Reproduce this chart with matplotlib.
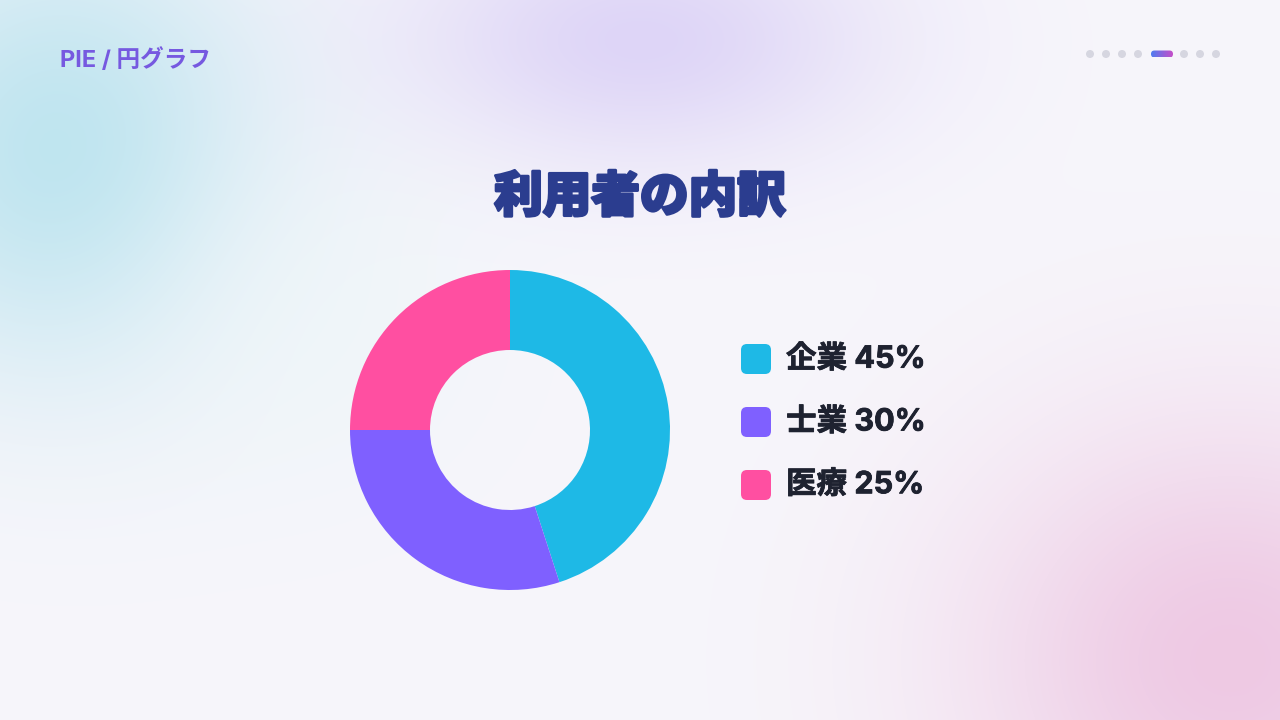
import numpy as np
import matplotlib.pyplot as plt
import matplotlib.patheffects as pe
from matplotlib.patches import FancyBboxPatch, Circle
from matplotlib.colors import to_rgb

plt.rcParams['font.family'] = ['Inter', 'Noto Sans CJK JP', 'DejaVu Sans']

labels = ["企業", "士業", "医療"]
values = [45, 30, 25]
colors = ["#1EB9E6", "#7F60FF", "#FF4FA1"]
title = "利用者の内訳"
header = "PIE / 円グラフ"

W, H = 1280, 720
fig = plt.figure(figsize=(12.8, 7.2), dpi=100)

# soft background with blurred colour blobs
bg = fig.add_axes([0, 0, 1, 1])
yy, xx = np.mgrid[0:H, 0:W]
img = np.ones((H, W, 3)) * np.array(to_rgb("#F7F6FB"))
blobs = [((60, 150), (150, 160), "#BCE4EF", 0.95),
         ((640, 40), (170, 90), "#D8CDF6", 0.8),
         ((1230, 660), (190, 170), "#EDC4E1", 0.9),
         ((330, 330), (120, 120), "#EEF6F9", 0.6)]
for (cx, cy), (sx, sy), c, a in blobs:
    w = a * np.exp(-((xx - cx) ** 2 / (2 * sx ** 2) + (yy - cy) ** 2 / (2 * sy ** 2)))
    img = img * (1 - w[..., None]) + np.array(to_rgb(c)) * w[..., None]
bg.imshow(img, extent=[0, W, H, 0], aspect="auto")
bg.set_xlim(0, W)
bg.set_ylim(H, 0)
bg.axis("off")

# header and page dots
bg.text(60, 60, header, color="#7659E0", fontsize=17, fontweight="bold",
        va="center", ha="left")
for x in [1090, 1106, 1122, 1138, 1184, 1200, 1216]:
    bg.add_patch(Circle((x, 54), 4, color="#D6D6E0", lw=0))
pill = FancyBboxPatch((1151, 50.5), 22, 7, boxstyle="round,pad=0,rounding_size=3.5",
                      lw=0, fc="none")
bg.add_patch(pill)
grad = np.linspace(0, 1, 50)[None, :, None]
gimg = np.array(to_rgb("#4F7BF0")) * (1 - grad) + np.array(to_rgb("#C64FC9")) * grad
gi = bg.imshow(gimg, extent=[1151, 1173, 57.5, 50.5], aspect="auto")
gi.set_clip_path(pill)

# title
bg.text(640, 198, title, color="#2B3D8F", fontsize=35, fontweight="black",
        ha="center", va="center",
        path_effects=[pe.withStroke(linewidth=2, foreground="#2B3D8F")])

# donut
cx, cy, r = 510, 430, 160
ax = fig.add_axes([(cx - r) / W, (H - cy - r) / H, 2 * r / W, 2 * r / H])
ax.pie(values, colors=colors, startangle=90, counterclock=False,
       wedgeprops=dict(width=0.5, edgecolor="none"))
ax.set_xlim(-1, 1)
ax.set_ylim(-1, 1)
ax.set_aspect("equal")

# legend
for i, (lab, val, col) in enumerate(zip(labels, values, colors)):
    y = 359 + i * 63
    bg.add_patch(FancyBboxPatch((741, y - 15), 30, 30,
                                boxstyle="round,pad=0,rounding_size=6",
                                fc=col, lw=0))
    bg.text(786, y, f"{lab} {val}%", color="#1E2230", fontsize=22,
            fontweight="bold", va="center", ha="left",
            path_effects=[pe.withStroke(linewidth=0.6, foreground="#1E2230")])

fig.savefig("out.png", dpi=100)
